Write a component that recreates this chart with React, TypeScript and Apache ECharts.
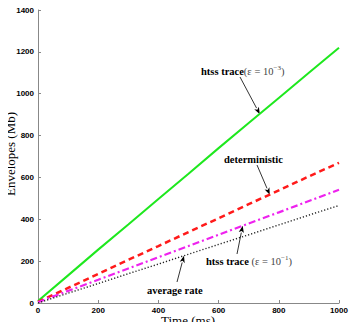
import React, { useEffect, useRef } from "react";
import * as echarts from "echarts";

const timeMs = [0, 100, 200, 300, 400, 500, 600, 700, 800, 900, 1000];
const htss3 = [10, 132, 255, 375, 497, 618, 740, 860, 980, 1100, 1220];
const deterministic = [5, 72, 139, 206, 272, 339, 405, 472, 538, 605, 670];
const htss1 = [4, 58, 111, 165, 219, 272, 326, 380, 433, 487, 541];
const averageRate = [0, 47, 93, 140, 186, 233, 280, 326, 373, 420, 466];
const xTicks = [0, 200, 400, 600, 800, 1000];
const yTicks = [0, 200, 400, 600, 800, 1000, 1200, 1400];
const xName = "Time (ms)";
const yName = "Envelopes (Mb)";

const pairs = (ys: number[]) => timeMs.map((t, i) => [t, ys[i]]);

function arrow(x1: number, y1: number, x2: number, y2: number) {
  const ang = Math.atan2(y2 - y1, x2 - x1);
  const L = 7, W = 2.6;
  const bx = x2 - L * Math.cos(ang), by = y2 - L * Math.sin(ang);
  const px = -Math.sin(ang) * W, py = Math.cos(ang) * W;
  const nx = bx + (x2 - bx) * 0.25, ny = by + (y2 - by) * 0.25;
  return [
    { type: "line", shape: { x1, y1, x2: bx, y2: by }, style: { stroke: "#000", lineWidth: 0.8 } },
    {
      type: "polygon",
      shape: { points: [[x2, y2], [bx + px, by + py], [nx, ny], [bx - px, by - py]] },
      style: { fill: "#000" },
    },
  ];
}

const rich = {
  b: { fontFamily: "Liberation Serif", fontWeight: "bold", fontSize: 10.5, fill: "#000" },
  m: { fontFamily: "Liberation Serif", fontSize: 10.5, fill: "#444" },
  s: { fontFamily: "Liberation Serif", fontSize: 7, fill: "#444", padding: [0, 0, 7, 0] },
};

export default function App() {
  const ref = useRef<HTMLDivElement>(null);
  useEffect(() => {
    if (!ref.current) return;
    const chart = echarts.init(ref.current, undefined, { renderer: "svg" });
    const axisCommon = {
      axisLine: { show: true, lineStyle: { color: "#888", width: 1 } },
      axisTick: { show: true, inside: true, length: 3, lineStyle: { color: "#888" } },
      splitLine: { show: false },
    };
    const lbl = { color: "#000", fontFamily: "Liberation Sans", fontWeight: "bold", fontSize: 8, formatter: (v: number) => String(v) };
    chart.setOption({
      animation: false,
      backgroundColor: "#fff",
      grid: { left: 38, right: 21, top: 10, bottom: 27, containLabel: false, outerBoundsMode: "none" },
      xAxis: {
        type: "value", min: xTicks[0], max: xTicks[xTicks.length - 1], interval: 200,
        ...axisCommon,
        axisLabel: { ...lbl, margin: 3 },
      },
      yAxis: {
        type: "value", min: yTicks[0], max: yTicks[yTicks.length - 1], interval: 200,
        ...axisCommon,
        axisLabel: { ...lbl, margin: 4 },
      },
      series: [
        { type: "line", data: pairs(htss3), showSymbol: false, lineStyle: { color: "#1ee81e", width: 2 } },
        { type: "line", data: pairs(deterministic), showSymbol: false, lineStyle: { color: "#ff1a1a", width: 2.5, type: [6, 4] } },
        { type: "line", data: pairs(htss1), showSymbol: false, lineStyle: { color: "#ee22ee", width: 2.2, type: [7, 3, 2, 3] } },
        { type: "line", data: pairs(averageRate), showSymbol: false, lineStyle: { color: "#222", width: 1.4, type: [1.2, 2] } },
      ],
    });
    const tip = (t: number, ys: number[]) => {
      const v = ys[0] + (ys[ys.length - 1] - ys[0]) * (t / 1000);
      return chart.convertToPixel({ gridIndex: 0 }, [t, v]) as number[];
    };
    const g3 = tip(737, htss3);
    const gd = tip(770, deterministic);
    const g1 = tip(680, htss1);
    const ga = tip(485, averageRate);
    const nameFont = { fontFamily: "Liberation Serif", fontSize: 13, fill: "#000", align: "center", verticalAlign: "middle" };
    chart.setOption({
      graphic: [
        ...arrow(240, 77, g3[0], g3[1]),
        ...arrow(257, 165, gd[0], gd[1]),
        ...arrow(237, 254, g1[0], g1[1]),
        ...arrow(177, 282, ga[0], ga[1]),
        { type: "text", x: 201, y: 71, style: { text: "{b|htss trace}{m|(ε = 10}{s|−3}{m|)}", rich, verticalAlign: "middle" } },
        { type: "text", x: 224, y: 159, style: { text: "{b|deterministic}", rich, verticalAlign: "middle" } },
        { type: "text", x: 206, y: 261, style: { text: "{b|htss trace }{m|(ε = 10}{s|−1}{m|)}", rich, verticalAlign: "middle" } },
        { type: "text", x: 147, y: 290, style: { text: "{b|average rate}", rich, verticalAlign: "middle" } },
        { type: "text", x: 188, y: 320, style: { text: xName, ...nameFont } },
        { type: "text", x: 10, y: 154, rotation: Math.PI / 2, style: { text: yName, ...nameFont } },
      ],
    });
    return () => chart.dispose();
  }, []);
  return <div ref={ref} style={{ width: 360, height: 330, margin: -8 }} />;
}
